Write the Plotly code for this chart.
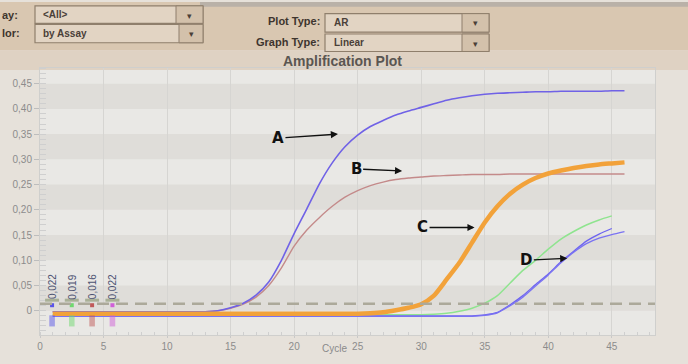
import plotly.graph_objects as go

# ---------------- data ----------------
cycles = list(range(1, 47))

curve_A = [-0.002]*13 + [0.000, 0.006, 0.015, 0.031, 0.057, 0.100, 0.153, 0.202, 0.252,
           0.293, 0.325, 0.348, 0.365, 0.377, 0.388, 0.396, 0.403, 0.410, 0.417, 0.422,
           0.426, 0.429, 0.431, 0.432, 0.433, 0.434, 0.434, 0.435, 0.435, 0.435, 0.435,
           0.436, 0.436]
curve_B = [-0.002]*13 + [0.000, 0.005, 0.013, 0.027, 0.050, 0.085, 0.128, 0.160, 0.185,
           0.207, 0.225, 0.238, 0.248, 0.255, 0.260, 0.263, 0.265, 0.267, 0.268, 0.269,
           0.270, 0.270, 0.270, 0.271, 0.271, 0.271, 0.271, 0.271, 0.271, 0.271, 0.271,
           0.271, 0.271]
curve_C = [-0.006]*25 + [-0.005, -0.003, 0.001, 0.006, 0.013, 0.030, 0.062, 0.095, 0.135,
           0.175, 0.207, 0.232, 0.250, 0.263, 0.272, 0.278, 0.283, 0.287, 0.290, 0.292,
           0.294]
curve_green = [-0.008]*30 + [-0.007, -0.005, -0.001, 0.005, 0.015, 0.030, 0.055, 0.080,
               0.100, 0.122, 0.142, 0.157, 0.170, 0.180, 0.188]
curve_D1 = [-0.010]*34 + [-0.008, -0.003, 0.012, 0.030, 0.052, 0.073, 0.097, 0.118,
            0.138, 0.152, 0.163]
curve_D2 = [-0.011]*34 + [-0.009, -0.004, 0.010, 0.027, 0.049, 0.071, 0.095, 0.116,
            0.133, 0.144, 0.151, 0.157]

threshold = 0.014
thresh_x = [0.95, 2.5, 4.1, 5.7]
thresh_labels = ["0,022", "0,019", "0,016", "0,022"]
thresh_colors = ["#5a55e8", "#6fd86f", "#c05a5a", "#d060d8"]

y_tickvals = [0, 0.05, 0.10, 0.15, 0.20, 0.25, 0.30, 0.35, 0.40, 0.45]
y_ticktext = ["0", "0,05", "0,10", "0,15", "0,20", "0,25", "0,30", "0,35", "0,40", "0,45"]
x_tickvals = [0, 5, 10, 15, 20, 25, 30, 35, 40, 45]

# ---------------- layout geometry ----------------
W, H = 688, 364
L, R, T, B = 40, 33, 68, 21
PW, PH = W - L - R, H - T - B

def px(x):
    return (x - L) / PW

def py(y):
    return 1 - (y - T) / PH

fig = go.Figure()

line_specs = [
    (curve_B, "#c48a8a", 1.4, "B"),
    (curve_A, "#7062e6", 1.6, "A"),
    (curve_green, "#8fe48f", 1.5, "green"),
    (curve_D1, "#6d64f0", 1.3, "D1"),
    (curve_D2, "#7a72f2", 1.3, "D2"),
    (curve_C, "#f2a23a", 4.5, "C"),
]
for vals, col, w, name in line_specs:
    fig.add_trace(go.Scatter(x=cycles[:len(vals)], y=vals, mode="lines", name=name,
                             line=dict(color=col, width=w, shape="spline", smoothing=0.6),
                             hoverinfo="skip"))

# threshold markers (small coloured squares)
fig.add_trace(go.Scatter(x=thresh_x, y=[0.011]*4, mode="markers",
                         marker=dict(symbol="square", size=4, color=thresh_colors),
                         hoverinfo="skip"))

shapes = []
# alternating bands
for lo in [0.0, 0.10, 0.20, 0.30, 0.40]:
    shapes.append(dict(type="rect", xref="paper", yref="y", x0=0, x1=1, y0=lo, y1=lo + 0.05,
                       fillcolor="#dfddd9", line_width=0, layer="below"))
# threshold dashed line
shapes.append(dict(type="line", xref="x", yref="y", x0=0, x1=48.4, y0=threshold, y1=threshold,
                   line=dict(color="#aca99a", width=2.5, dash="12px,7px")))
# threshold handles & assay boxes
for xv, col in zip(thresh_x, thresh_colors):
    shapes.append(dict(type="line", xref="x", yref="y", x0=xv - 0.55, x1=xv + 0.55,
                       y0=0.021, y1=0.021, line=dict(color="#a9b096", width=3)))
    shapes.append(dict(type="rect", xref="x", yref="y", x0=xv - 0.22, x1=xv + 0.22,
                       y0=-0.031, y1=-0.009, fillcolor=col, opacity=0.5, line_width=0))

# photo surroundings: top toolbar area
shapes.append(dict(type="rect", xref="paper", yref="paper", x0=px(0), x1=px(W), y0=py(0), y1=py(50),
                   fillcolor="#d9c7b1", line_width=0, layer="below"))
shapes.append(dict(type="rect", xref="paper", yref="paper", x0=px(0), x1=px(W), y0=py(50), y1=py(70),
                   fillcolor="#dfd2c3", line_width=0, layer="below"))
shapes.append(dict(type="rect", xref="paper", yref="paper", x0=px(200), x1=px(W), y0=py(0), y1=py(5),
                   fillcolor="#b9b1a8", line_width=0, layer="below"))
# dropdown boxes
boxes = [(35, 4, 203, 22, 176), (35, 23, 203, 42, 179), (325, 12, 489, 31, 462), (325, 33, 489, 51, 462)]
for x0, y0, x1, y1, bx in boxes:
    shapes.append(dict(type="rect", xref="paper", yref="paper", x0=px(x0), x1=px(x1), y0=py(y0), y1=py(y1),
                       fillcolor="#e2d4c3", line=dict(color="#8f7f6c", width=1.2)))
    shapes.append(dict(type="rect", xref="paper", yref="paper", x0=px(bx), x1=px(x1), y0=py(y0), y1=py(y1),
                       fillcolor="#d3c1ab", line=dict(color="#8f7f6c", width=1)))

annotations = []
def ann(text, x, y, size=11, color="#3e352e", xanchor="left", bold=True, **kw):
    t = f"<b>{text}</b>" if bold else text
    annotations.append(dict(text=t, xref="paper", yref="paper", x=px(x), y=py(y), showarrow=False,
                            xanchor=xanchor, yanchor="middle",
                            font=dict(size=size, color=color, family="Liberation Sans, Arial"), **kw))

ann("ay:", 0, 13)
ann("lor:", 0, 32)
ann("&lt;All&gt;", 41, 13, size=10, color="#4a4038")
ann("by Assay", 41, 32, size=10, color="#4a4038")
ann("Plot Type:", 322, 20, xanchor="right")
ann("Graph Type:", 322, 41, xanchor="right")
ann("AR", 332, 21, size=10, color="#4a4038")
ann("Linear", 332, 42, size=10, color="#4a4038")
for bx, yc in [(189, 14), (191, 33), (475, 22), (475, 43)]:
    ann("▾", bx, yc, size=9, color="#4a4038", xanchor="center", bold=False)
ann("Amplification Plot", 342, 61, size=14, color="#5a5652", xanchor="center")
ann("Cycle", 334, 357, size=10, color="#8a8a8a", xanchor="center", bold=False)

# threshold value labels (rotated)
for xv, lab in zip(thresh_x, thresh_labels):
    annotations.append(dict(text=lab, xref="x", yref="y", x=xv, y=0.047, showarrow=False,
                            textangle=-90, font=dict(size=10, color="#4c5272", family="Liberation Sans, Arial")))

# A-D arrows
arrows = [("A", 23.45, 0.350, -60, 4), ("B", 28.5, 0.277, -46, -2),
          ("C", 34.2, 0.165, -52, 0), ("D", 41.5, 0.104, -41, 2)]
for lab, xv, yv, ax, ay in arrows:
    annotations.append(dict(text=f"<b>{lab}</b>", xref="x", yref="y", x=xv, y=yv, ax=ax, ay=ay,
                            axref="pixel", ayref="pixel", showarrow=True, arrowhead=2,
                            arrowsize=1.1, arrowwidth=1.3, arrowcolor="#111111",
                            font=dict(size=15, color="#111111", family="DejaVu Sans, Arial")))

fig.update_layout(
    width=W, height=H,
    margin=dict(l=L, r=R, t=T, b=B),
    paper_bgcolor="#e6e1da",
    plot_bgcolor="#e9e8e5",
    showlegend=False,
    shapes=shapes,
    annotations=annotations,
    xaxis=dict(range=[0, 48.4], tickvals=x_tickvals, showgrid=True, gridcolor="#d6d5d2",
               gridwidth=1, zeroline=False, showline=True, linecolor="#cfcfcd", mirror=True,
               ticks="outside", ticklen=2, tickcolor="#c8c8c8",
               tickfont=dict(size=10, color="#8c8c8c", family="Liberation Sans, Arial"),
               minor=dict(dtick=1, ticks="inside", ticklen=3, tickcolor="#cfcfcf", showgrid=False)),
    yaxis=dict(range=[-0.048, 0.481], tickvals=y_tickvals, ticktext=y_ticktext, showgrid=False,
               zeroline=False, showline=True, linecolor="#cfcfcd", mirror=True,
               ticks="outside", ticklen=5, tickcolor="#bdbdbd",
               tickfont=dict(size=10, color="#8c8c8c", family="Liberation Sans, Arial"),
               minor=dict(dtick=0.01, ticks="inside", ticklen=6, tickcolor="#cfcfcf", showgrid=False)),
)

fig.write_html("out.html", config={"displayModeBar": False},
               post_script="document.body.style.margin='0';document.body.style.padding='0';")
